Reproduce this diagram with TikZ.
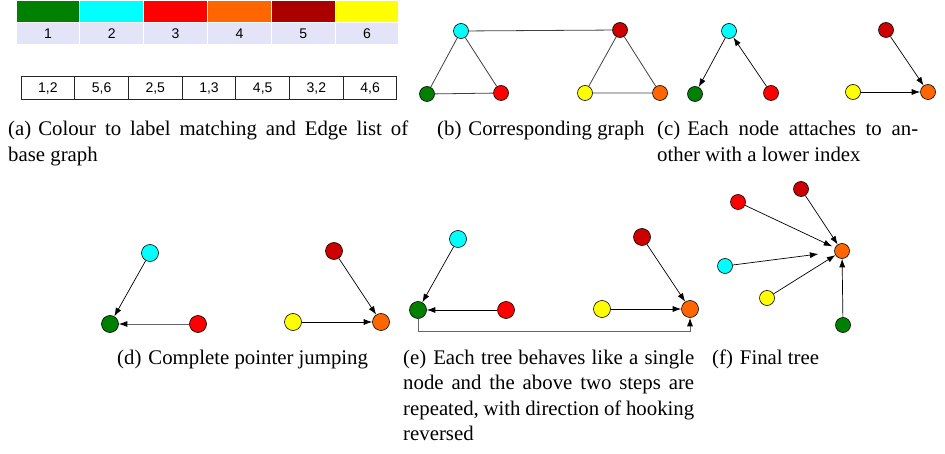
\documentclass[tikz,border=0pt]{standalone}
\usepackage{fontspec}
\setmainfont{Liberation Serif}
\newfontfamily\tabfont{Liberation Sans}
\usetikzlibrary{arrows.meta}
\definecolor{vgreen}{HTML}{008000}
\definecolor{vcyan}{HTML}{00FFFF}
\definecolor{vred}{HTML}{FF0000}
\definecolor{vorange}{HTML}{FF6600}
\definecolor{vdarkred}{HTML}{CC0000}
\definecolor{vyellow}{HTML}{FFFF00}
\definecolor{tdarkred}{HTML}{AA0000}
\definecolor{lavend}{HTML}{E4E4F8}
\newcommand\capl[1]{(#1)\hskip 7pt\relax}
\tikzset{
  vertex/.style={circle,draw=black,line width=0.6pt,inner sep=0pt,minimum size=15pt},
  bigvertex/.style={vertex,minimum size=17pt},
  edge/.style={draw=black!75,line width=0.8pt},
  arc/.style={draw=black,line width=0.7pt,-{Latex[length=8.5pt,width=6pt]}},
  greyarc/.style={arc,draw=black!60,line width=0.9pt,-{Latex[length=8.5pt,width=6pt,color=black]}},
  cell/.style={draw=white,line width=1pt,inner sep=0pt,minimum width=63.8pt,minimum height=21.5pt,font=\tabfont\fontsize{14}{14}\selectfont},
  ecell/.style={draw=black!85,line width=1pt,inner sep=0pt,minimum width=53.7pt,minimum height=23pt,font=\tabfont\fontsize{14}{14}\selectfont},
  captext/.style={anchor=base west,inner sep=0pt,font=\fontsize{20.8}{25.5}\selectfont},
}
\begin{document}
\begin{tikzpicture}[x=1pt,y=-1pt]
\useasboundingbox (0,0) rectangle (945,454);
% colour to label table and edge list
\foreach \c [count=\i] in {vgreen,vcyan,vred,vorange,tdarkred,vyellow}{
  \node[cell,fill=\c] (col\i) at ({16+63.83*(\i-0.5)},11.5) {};
  \node[cell,fill=lavend] (lab\i) at ({16+63.83*(\i-0.5)},33.5) {\i};
}
\foreach \e [count=\i] in {{1,2},{5,6},{2,5},{1,3},{4,5},{3,2},{4,6}}
  \node[ecell] (el\i) at ({21+53.71*(\i-0.5)},88.5) {\e};
% (b)
\node[vertex,fill=vgreen] (b1) at (427,94) {};
\node[vertex,fill=vcyan] (b2) at (461,31) {};
\node[vertex,fill=vred] (b3) at (501,93) {};
\node[vertex,fill=vorange] (b4) at (660,93) {};
\node[vertex,fill=vdarkred] (b5) at (620,30) {};
\node[vertex,fill=vyellow] (b6) at (585,93) {};
\draw[edge] (b1)--(b2) (b2)--(b3) (b1)--(b3) (b2)--(b5) (b5)--(b6) (b5)--(b4) (b6)--(b4);
% (c)
\node[vertex,fill=vgreen] (c1) at (695,94) {};
\node[vertex,fill=vcyan] (c2) at (729,31) {};
\node[vertex,fill=vred] (c3) at (771,93) {};
\node[vertex,fill=vorange] (c4) at (928,92) {};
\node[vertex,fill=vdarkred] (c5) at (886,30) {};
\node[vertex,fill=vyellow] (c6) at (853,92) {};
\draw[arc] (c2)--(c1);
\draw[arc] (c3)--(c2);
\draw[arc] (c5)--(c4);
\draw[arc] (c6)--(c4);
% (d)
\node[bigvertex,fill=vgreen] (d1) at (110,324) {};
\node[bigvertex,fill=vcyan] (d2) at (150,253) {};
\node[bigvertex,fill=vred] (d3) at (198,324) {};
\node[bigvertex,fill=vorange] (d4) at (381,322) {};
\node[bigvertex,fill=vdarkred] (d5) at (334,251) {};
\node[bigvertex,fill=vyellow] (d6) at (293,322) {};
\draw[arc] (d2)--(d1);
\draw[greyarc] (d3)--(d1);
\draw[arc] (d5)--(d4);
\draw[arc] (d6)--(d4);
% (e)
\node[bigvertex,fill=vgreen] (e1) at (418,310) {};
\node[bigvertex,fill=vcyan] (e2) at (458,239) {};
\node[bigvertex,fill=vred] (e3) at (506,310) {};
\node[bigvertex,fill=vorange] (e4) at (690,309) {};
\node[bigvertex,fill=vdarkred] (e5) at (642,237) {};
\node[bigvertex,fill=vyellow] (e6) at (602,309) {};
\draw[arc] (e2)--(e1);
\draw[arc] (e3)--(e1);
\draw[arc] (e5)--(e4);
\draw[arc] (e6)--(e4);
\draw[greyarc] (e1.south) -- ++(0,13) -| (e4.south);
% (f)
\node[vertex,fill=vgreen] (f1) at (843,325) {};
\node[vertex,fill=vcyan] (f2) at (725,266) {};
\node[vertex,fill=vred] (f3) at (738,202) {};
\node[vertex,fill=vorange] (f4) at (842,251) {};
\node[vertex,fill=vdarkred] (f5) at (801,189) {};
\node[vertex,fill=vyellow] (f6) at (767,298) {};
\draw[arc,shorten >=3pt] (f3)--(f4);
\draw[arc] (f5)--(f4);
\draw[arc,shorten >=16pt] (f2)--(f4);
\draw[arc] (f6)--(f4);
\draw[arc] (f1)--(f4);
% captions
\node[captext,text width=400pt,align=justify] (capa) at (8,136) {\capl{a}Colour to label matching and Edge list of\linebreak base graph};
\node[captext] (capb) at (437,136) {\capl{b}Corresponding graph};
\node[captext,text width=261pt,align=justify] (capc) at (657,136) {\capl{c}Each node attaches to an-\linebreak other with a lower index};
\node[captext] (capd) at (117,364) {\capl{d}Complete pointer jumping};
\node[captext,text width=291pt,align=justify] (cape) at (403,364) {\capl{e}Each tree behaves like a single\linebreak node and the above two steps are\linebreak repeated, with direction of hooking\linebreak reversed};
\node[captext] (capf) at (712,364) {\capl{f}Final tree};
\end{tikzpicture}
\end{document}
